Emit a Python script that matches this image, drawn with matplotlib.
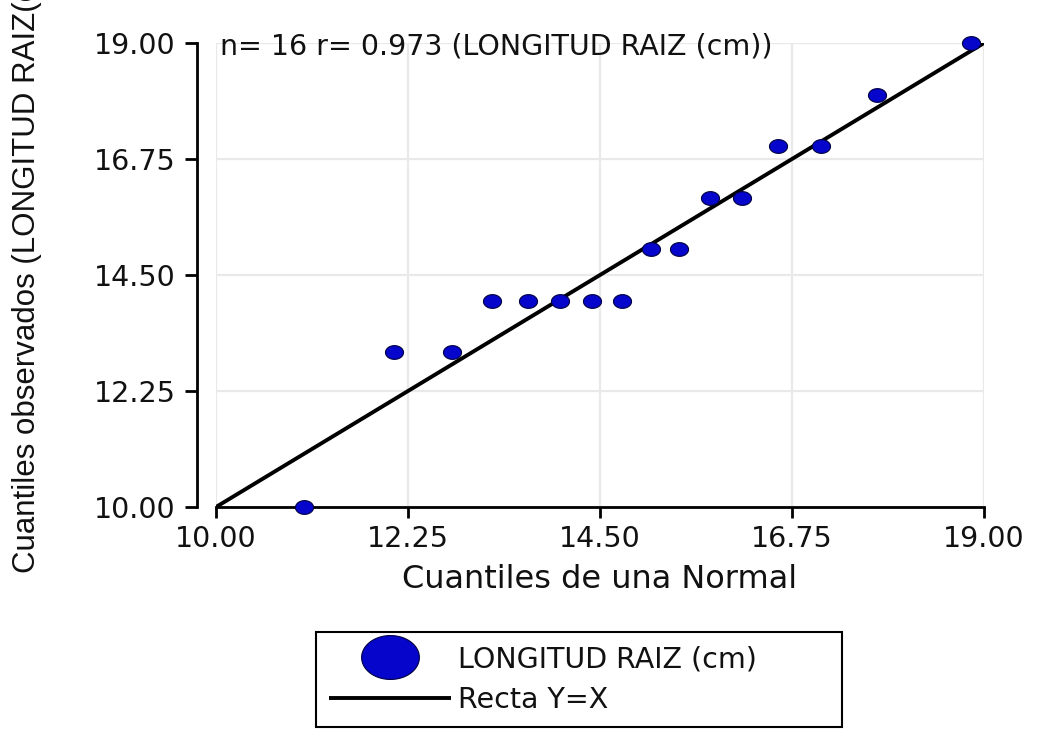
"""Q-Q plot: LONGITUD RAIZ (cm) observed quantiles vs normal quantiles."""

import matplotlib

matplotlib.use("Agg")
import matplotlib.pyplot as plt
import numpy as np
from matplotlib.path import Path

# ---------------------------------------------------------------------------
# Data
# ---------------------------------------------------------------------------

normal_q = [11.03, 12.09, 12.76, 13.24, 13.66, 14.03, 14.41, 14.76,
            15.10, 15.43, 15.79, 16.16, 16.59, 17.09, 17.75, 18.85]
observed_q = [10, 13, 13, 14, 14, 14, 14, 14,
              15, 15, 16, 16, 17, 17, 18, 19]
ref_line = [10.0, 19.0]
tick_vals = [10.00, 12.25, 14.50, 16.75, 19.00]
tick_labels = ["10.00", "12.25", "14.50", "16.75", "19.00"]

title_txt = "n= 16 r= 0.973 (LONGITUD RAIZ (cm))"
series_label = "LONGITUD RAIZ (cm)"
line_label = "Recta Y=X"
xlabel_txt = "Cuantiles de una Normal"
ylabel_txt = "Cuantiles observados (LONGITUD RAIZ(cm))"

# ---------------------------------------------------------------------------
# Style
# ---------------------------------------------------------------------------

W, H = 1040, 742
DOT_FACE = "#0505cc"
DOT_EDGE = "#000040"
GRID = "#e9e9e9"
TXT = "#111111"
FONT = ["DejaVu Sans"]


def ellipse_marker(ratio=0.76) -> Path:
    t = np.linspace(0, 2 * np.pi, 64)
    verts = np.column_stack([np.cos(t), ratio * np.sin(t)])
    return Path(verts, closed=True)


def main() -> None:
    plt.rcParams["font.family"] = FONT
    fig = plt.figure(figsize=(W / 100, H / 100), dpi=100)
    ax = fig.add_axes([216 / W, 1 - 507 / H, 768 / W, 464 / H])

    ax.set_xlim(tick_vals[0], tick_vals[-1])
    ax.set_ylim(tick_vals[0], tick_vals[-1])
    ax.grid(True, color=GRID, linewidth=1.6, zorder=0)
    ax.set_axisbelow(True)

    ax.plot(ref_line, ref_line, color="black", linewidth=2.8, zorder=2,
            label=line_label, solid_capstyle="butt")
    ax.plot(normal_q, observed_q, linestyle="none", marker=ellipse_marker(),
            markersize=13, markerfacecolor=DOT_FACE, markeredgecolor=DOT_EDGE,
            markeredgewidth=0.8, zorder=3, clip_on=False, label=series_label)

    for side in ("top", "right"):
        ax.spines[side].set_visible(False)
    ax.spines["left"].set_position(("outward", 14))
    ax.spines["left"].set_linewidth(2)
    ax.spines["bottom"].set_linewidth(2)

    ax.set_xticks(tick_vals)
    ax.set_xticklabels(tick_labels)
    ax.set_yticks(tick_vals)
    ax.set_yticklabels(tick_labels)
    ax.tick_params(axis="y", length=9, width=2, pad=6, labelsize=20.5,
                   labelcolor=TXT)
    ax.tick_params(axis="x", length=8, width=2, pad=5, labelsize=20.5,
                   labelcolor=TXT)

    ax.text(220 / W, 1 - 47 / H, title_txt, transform=fig.transFigure,
            ha="left", va="center", fontsize=20.5, color=TXT)
    fig.text(600 / W, 1 - 580 / H, xlabel_txt, ha="center", va="center",
             fontsize=23, color=TXT)
    # the original export crops this label at the top edge
    fig.text(27 / W, 1 - 573 / H, ylabel_txt, rotation=90, ha="center",
             va="bottom", fontsize=22.5, color=TXT,
             family=["Liberation Sans", "DejaVu Sans"])

    handles, labels = ax.get_legend_handles_labels()
    order = [1, 0]
    leg = fig.legend(
        [handles[i] for i in order],
        [labels[i] for i in order],
        loc="upper left",
        bbox_to_anchor=(316 / W, 1 - 633 / H, 526 / W, 0.001),
        mode="expand",
        borderaxespad=0,
        fontsize=20.5,
        markerscale=3.2,
        handlelength=4.3,
        handletextpad=0.22,
        labelspacing=0.45,
        borderpad=0.45,
        fancybox=False,
        framealpha=1,
    )
    leg.get_frame().set_edgecolor("black")
    leg.get_frame().set_linewidth(1.5)
    for txt in leg.get_texts():
        txt.set_color(TXT)

    fig.savefig("out.png", dpi=100)
    plt.close(fig)


main()
